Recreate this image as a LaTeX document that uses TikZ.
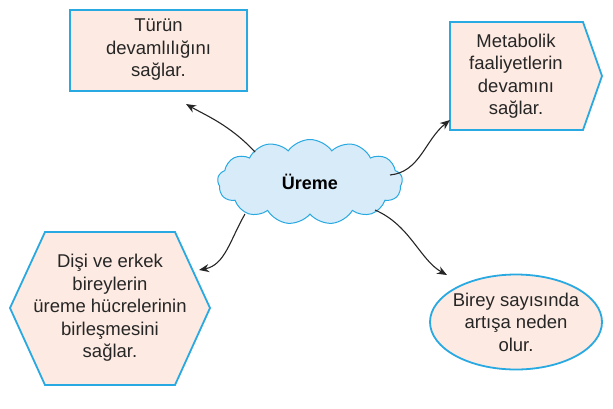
\documentclass[tikz,border=0pt]{standalone}
\usepackage{fontspec}
\setmainfont{Liberation Sans}
\usetikzlibrary{shapes.geometric,shapes.symbols,arrows.meta}
\definecolor{bd}{HTML}{29A9E1}
\definecolor{pk}{HTML}{FDEAE2}
\definecolor{cl}{HTML}{D8EBF8}
\begin{document}
\begin{tikzpicture}[x=1pt,y=-1pt,
  box/.style={draw=bd,line width=1.8pt,fill=pk},
  txt/.style={align=center,font=\fontsize{18.5}{22.5}\selectfont,text=black!85},
  arr/.style={-{Stealth[length=10pt,width=8pt]},line width=1.1pt,black!85}]
\useasboundingbox (0,0) rectangle (613,408);
\draw[box] (70,10) rectangle (247,91);
\node[txt] (a) at (158.5,50) {Türün\\devamlılığını\\sağlar.};
\coordinate (at) at (186,104);
\draw[box] (450,22) -- (583,22) -- (602,76) -- (583,130) -- (450,130) -- cycle;
\node[txt] (b) at (516,76) {Metabolik\\faaliyetlerin\\devamını\\sağlar.};
\coordinate (bt) at (450,120);
\draw[box] (10,308) -- (45,232) -- (175,232) -- (210,308) -- (175,385) -- (45,385) -- cycle;
\node[txt] (c) at (110,308) {Dişi ve erkek\\bireylerin\\üreme hücrelerinin\\birleşmesini\\sağlar.};
\coordinate (ct) at (199,270);
\node[box,ellipse,minimum width=172pt,minimum height=95pt] (d) at (516,322) {};
\node[txt] at (d) {Birey sayısında\\artışa neden\\olur.};
\coordinate (dt) at (447,275);
\node[cloud,draw=bd,line width=1pt,fill=cl,cloud puffs=13,cloud puff arc=110,aspect=2.3,minimum width=185pt,minimum height=85pt] (e) at (310,182) {};
\node[font=\bfseries\fontsize{18}{22}\selectfont] (et) at (310,182) {Üreme};
\coordinate (e1) at (255,152);
\coordinate (e2) at (390,175);
\coordinate (e3) at (245,214);
\coordinate (e4) at (375,210);
\draw[arr] (e1) .. controls (230,125) and (205,115) .. (at);
\draw[arr] (e2) .. controls (420,172) and (425,140) .. (bt);
\draw[arr] (e3) .. controls (230,240) and (225,265) .. (ct);
\draw[arr] (e4) .. controls (410,225) and (420,260) .. (dt);
\end{tikzpicture}
\end{document}
